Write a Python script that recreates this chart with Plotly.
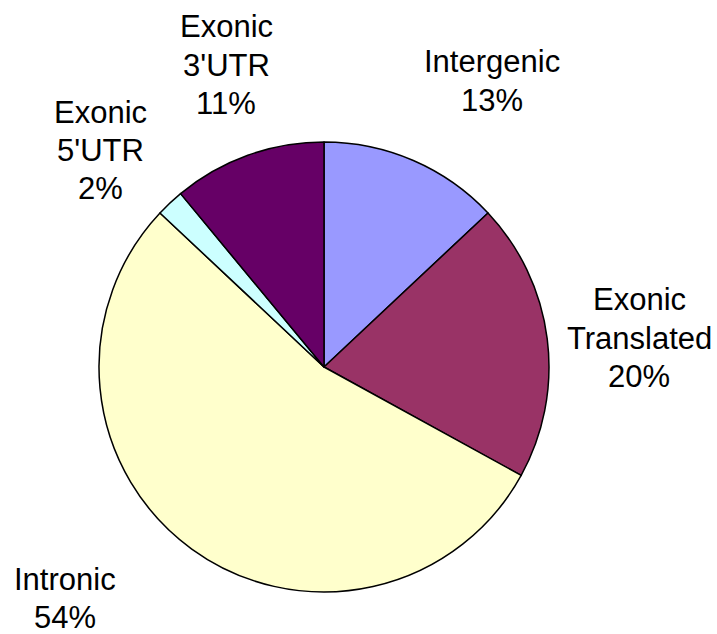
import plotly.graph_objects as go

# Share of sites by genomic region
categories = ["Intergenic", "Exonic Translated", "Intronic", "Exonic 5'UTR", "Exonic 3'UTR"]
percentages = [13, 20, 54, 2, 11]
colors = ["#9999FF", "#993366", "#FFFFCC", "#CCFFFF", "#660066"]

W, H = 717, 634
cx, cy, r = 324, 367, 225  # pie centre and radius in pixels
LINE_GAP = 38.5              # pixel spacing between label lines

fig = go.Figure(
    go.Pie(
        labels=categories,
        values=percentages,
        sort=False,
        direction="clockwise",
        rotation=0,
        marker=dict(colors=colors, line=dict(color="black", width=1.5)),
        textinfo="none",
        hoverinfo="label+percent",
        showlegend=False,
        domain=dict(x=[(cx - r) / W, (cx + r) / W], y=[1 - (cy + r) / H, 1 - (cy - r) / H]),
    )
)

# Label placement: pixel centre of the first line of each label block
label_pos = {
    "Intergenic": (492, 61.5),
    "Exonic Translated": (639, 299.5),
    "Intronic": (65, 579),
    "Exonic 5'UTR": (100, 112),
    "Exonic 3'UTR": (226, 26.5),
}

for name, pct in zip(categories, percentages):
    px, py = label_pos[name]
    lines = name.split(" ") + [f"{pct}%"]
    for i, line in enumerate(lines):
        fig.add_annotation(
            x=px / W, y=1 - (py + i * LINE_GAP) / H, xref="paper", yref="paper",
            text=line, showarrow=False, xanchor="center", yanchor="middle",
            font=dict(family="Liberation Sans, Arial, sans-serif", size=31, color="black"),
        )

fig.update_layout(
    width=W, height=H,
    margin=dict(l=0, r=0, t=0, b=0),
    paper_bgcolor="white",
    plot_bgcolor="white",
)

fig.write_html("out.html")
